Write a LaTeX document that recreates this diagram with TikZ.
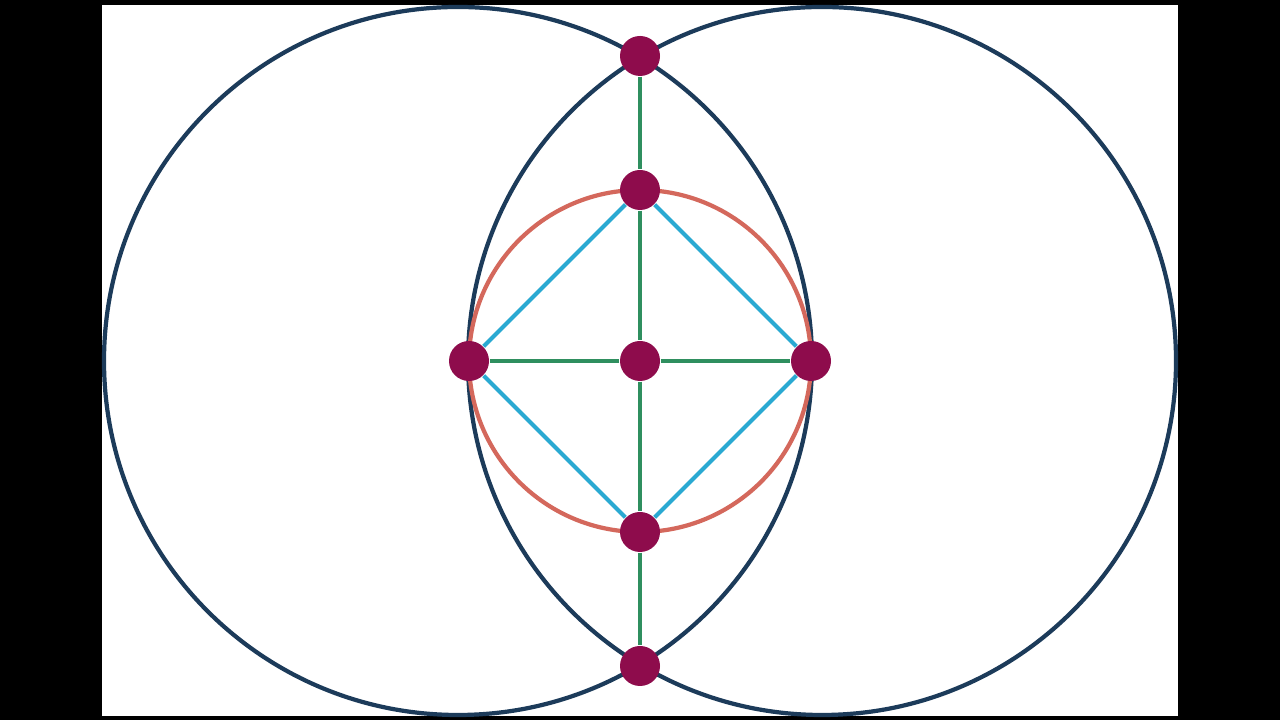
\documentclass[tikz,border=0pt]{standalone}
\definecolor{ringblue}{HTML}{1C3B5A}
\definecolor{ringred}{HTML}{D4685C}
\definecolor{linkblue}{HTML}{2AA9D2}
\definecolor{linkgreen}{HTML}{2F8F5F}
\definecolor{dotred}{HTML}{8E0C4C}
\begin{document}
\begin{tikzpicture}
        \tikzstyle{point}=[circle,fill=dotred,minimum size=4mm,inner sep=0pt]
        \tikzstyle{ring}=[draw=ringblue,line width=1.2pt]
        \tikzstyle{edge}=[draw, line width=1.15pt]
       \fill[black] (0,0) rectangle (12.8,7.2);
       \useasboundingbox (0,0) rectangle (12.8,7.2);
       \fill[white] (1.02,0.04) rectangle (11.78,7.15);
       \begin{scope}
         \draw [ring] (4.58,3.59) circle (3.54);
         \draw [ring] (8.22,3.59) circle (3.54);
         \draw [draw=ringred,line width=1.2pt] (6.40,3.59) circle (1.71);
         \node [point] (top) at (6.40,6.64) {};
         \node [point] (upper) at (6.40,5.30) {};
         \node [point] (left) at (4.69,3.59) {};
         \node [point] (mid) at (6.40,3.59) {};
         \node [point] (right) at (8.11,3.59) {};
         \node [point] (lower) at (6.40,1.88) {};
         \node [point] (bottom) at (6.40,0.54) {};
         \path[edge,linkgreen] (top) edge (upper) (upper) edge (mid) (mid) edge (lower) (lower) edge (bottom);
         \path[edge,linkgreen] (left) edge (mid) (mid) edge (right);
         \path[edge,linkblue] (upper) edge (left) (left) edge (lower) (lower) edge (right) (right) edge (upper);
        \end{scope}
      \end{tikzpicture}
\end{document}
